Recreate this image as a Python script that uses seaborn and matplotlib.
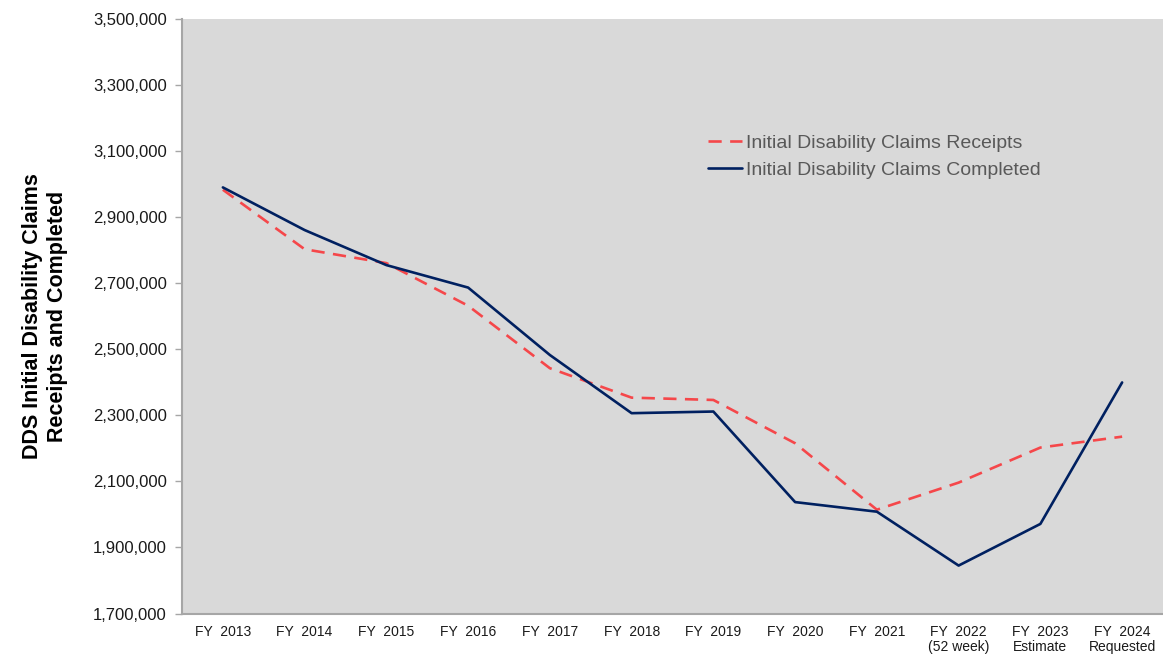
import matplotlib
matplotlib.use("Agg")
import matplotlib.pyplot as plt
import seaborn as sns
import pandas as pd
from matplotlib.ticker import FuncFormatter

# Fiscal years shown on the category axis
fiscal_years = ["FY  2013", "FY  2014", "FY  2015", "FY  2016", "FY  2017", "FY  2018",
                "FY  2019", "FY  2020", "FY  2021", "FY  2022\n(52 week)",
                "FY  2023\nEstimate", "FY  2024\nRequested"]

# Initial disability claims (DDS)
receipts = [2982000, 2802000, 2760000, 2631000, 2442000, 2353000,
            2346000, 2215000, 2014000, 2096000, 2202000, 2235000]
completed = [2989000, 2860000, 2754000, 2686000, 2482000, 2306000,
             2311000, 2037000, 2008000, 1845000, 1971000, 2399000]

series_receipts = "Initial Disability Claims Receipts"
series_completed = "Initial Disability Claims Completed"

y_ticks = [1700000, 1900000, 2100000, 2300000, 2500000, 2700000,
           2900000, 3100000, 3300000, 3500000]

sns.set_theme(style="white")
plt.rcParams["font.family"] = ["Liberation Sans", "DejaVu Sans"]

pos = list(range(len(fiscal_years)))
df = pd.DataFrame({
    "pos": pos * 2,
    "value": receipts + completed,
    "series": [series_receipts] * len(pos) + [series_completed] * len(pos),
})

fig = plt.figure(figsize=(11.63, 6.56), dpi=100)
ax = fig.add_axes([182 / 1163, 1 - 613.5 / 656, 1 - 182 / 1163, (613.5 - 18.5) / 656])
ax.set_facecolor("#D9D9D9")

palette = {series_receipts: "#F5474A", series_completed: "#002060"}
sns.lineplot(data=df[df.series == series_receipts], x="pos", y="value",
             color=palette[series_receipts], linewidth=1.9, ax=ax,
             label=series_receipts)
ax.lines[-1].set_dashes([5, 3.2])
sns.lineplot(data=df[df.series == series_completed], x="pos", y="value",
             color=palette[series_completed], linewidth=1.9, ax=ax,
             label=series_completed)

ax.set_xlim(-0.5, len(fiscal_years) - 0.5)
ax.set_ylim(1700000, 3500000)
ax.set_xticks(pos)
ax.set_xticklabels(fiscal_years, fontsize=10, color="#1a1a1a", linespacing=1.15)
ax.set_yticks(y_ticks)
ax.yaxis.set_major_formatter(FuncFormatter(lambda v, p: f"{int(v):,}"))
ax.tick_params(axis="y", labelsize=12, labelcolor="#1a1a1a", length=5, width=1,
               color="#A6A6A6", direction="out", left=True, pad=6)
ax.tick_params(axis="x", length=0, pad=8)

for side in ["top", "right"]:
    ax.spines[side].set_visible(False)
for side in ["left", "bottom"]:
    ax.spines[side].set_color("#A6A6A6")
    ax.spines[side].set_linewidth(1.5)

ax.set_xlabel("")
ax.set_ylabel("DDS Initial Disability Claims\nReceipts and Completed",
              fontsize=15.5, fontweight="bold", color="#000000", labelpad=18,
              linespacing=1.25)

leg = ax.legend(loc="upper left", bbox_to_anchor=(0.528, 0.818), frameon=False,
                fontsize=14, handlelength=1.75, handletextpad=0.2,
                labelspacing=0.45, borderaxespad=0)
for t in leg.get_texts():
    t.set_color("#595959")

fig.savefig("out.png", dpi=100)
